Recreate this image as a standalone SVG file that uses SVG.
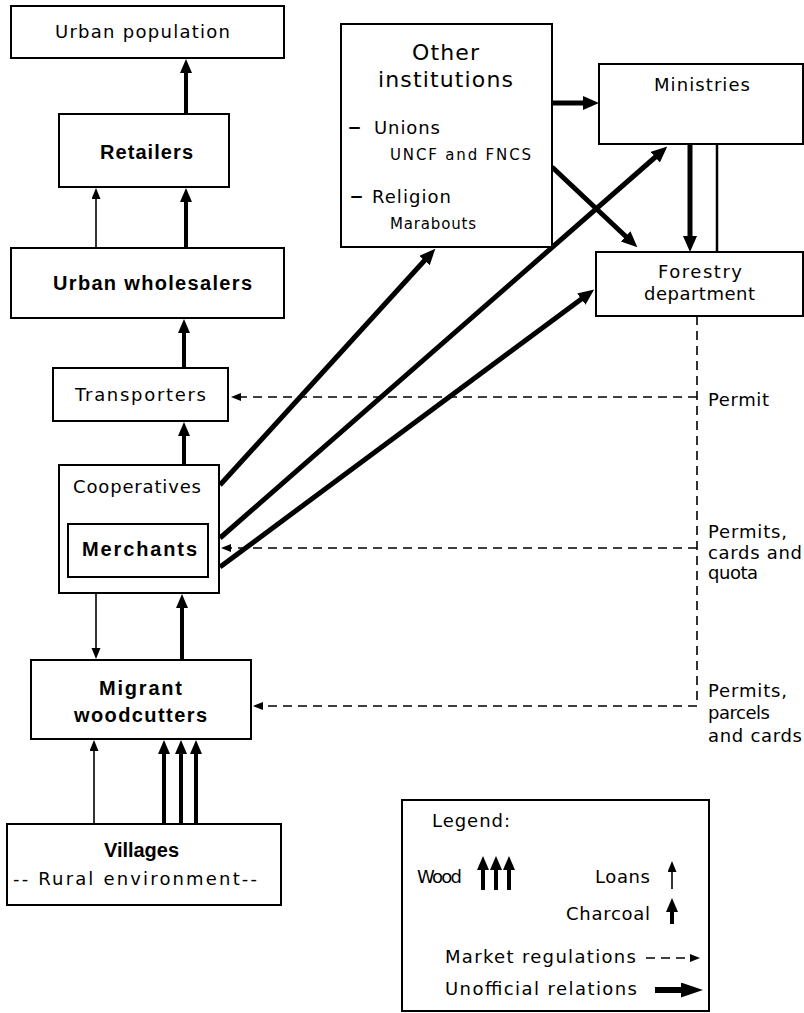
<svg xmlns="http://www.w3.org/2000/svg" width="804" height="1013" viewBox="0 0 804 1013">
<style>
.box{fill:#fff;stroke:#000;stroke-width:2}
.t{font-family:"DejaVu Sans",sans-serif;font-size:18px;fill:#000}
.s{font-family:"DejaVu Sans",sans-serif;font-size:15px;fill:#000}
.big{font-family:"DejaVu Sans",sans-serif;font-size:22px;fill:#000}
.dsh{font-family:"DejaVu Sans",sans-serif;font-size:26px;fill:#000}
.b{font-family:"Liberation Sans",Arial,sans-serif;font-size:20px;font-weight:bold;fill:#000}
.thick{stroke:#000;stroke-width:4;fill:none;marker-end:url(#hThick)}
.thin{stroke:#000;stroke-width:1.6;fill:none;marker-end:url(#hThin)}
.unoff{stroke:#000;stroke-width:5;fill:none;marker-end:url(#hUn)}
.dash{stroke:#000;stroke-width:1.6;fill:none;stroke-dasharray:9 6}
.dasharr{stroke:#000;stroke-width:1.6;fill:none;stroke-dasharray:9 6;marker-end:url(#hDash)}
</style>
<defs>
<marker id="hThick" markerUnits="userSpaceOnUse" markerWidth="16" markerHeight="14" refX="1" refY="6" orient="auto"><path d="M0,0 L14,6 L0,12 z" fill="#000"/></marker>
<marker id="hUn" markerUnits="userSpaceOnUse" markerWidth="18" markerHeight="16" refX="1" refY="7" orient="auto"><path d="M0,0 L16,7 L0,14 z" fill="#000"/></marker>
<marker id="hThin" markerUnits="userSpaceOnUse" markerWidth="13" markerHeight="10" refX="1" refY="4.5" orient="auto"><path d="M0,0 L11,4.5 L0,9 z" fill="#000"/></marker>
<marker id="hDash" markerUnits="userSpaceOnUse" markerWidth="12" markerHeight="10" refX="1" refY="4" orient="auto"><path d="M0,0 L10,4 L0,8 z" fill="#000"/></marker>
<marker id="hBig" markerUnits="userSpaceOnUse" markerWidth="24" markerHeight="18" refX="1" refY="7.5" orient="auto"><path d="M0,0 L22,7.5 L0,15 z" fill="#000"/></marker>
</defs>

<g id="connectors">
<line class="thick" x1="186" y1="114" x2="186" y2="72"/>
<line class="thin" x1="96" y1="248" x2="96" y2="198"/>
<line class="thick" x1="186" y1="248" x2="186" y2="201"/>
<line class="thick" x1="184" y1="368" x2="184" y2="332"/>
<line class="thick" x1="184" y1="465" x2="184" y2="435"/>
<line class="thin" x1="96" y1="593" x2="96" y2="649"/>
<line class="thick" x1="182" y1="660" x2="182" y2="607"/>
<line class="thin" x1="94" y1="824" x2="94" y2="750"/>
<line class="thick" x1="164" y1="824" x2="164" y2="753"/>
<line class="thick" x1="181" y1="824" x2="181" y2="753"/>
<line class="thick" x1="196" y1="824" x2="196" y2="753"/>
<line class="unoff" x1="553" y1="103" x2="584" y2="103"/>
<line class="unoff" x1="690" y1="144" x2="690" y2="237"/>
<line x1="717" y1="144" x2="717" y2="252" stroke="#000" stroke-width="2.5"/>
<line class="unoff" x1="552" y1="167" x2="626.4" y2="237"/>
<line class="unoff" x1="220" y1="485" x2="425.2" y2="259.8"/>
<line class="unoff" x1="220" y1="538" x2="656" y2="156.5"/>
<line class="unoff" x1="220" y1="567" x2="582.1" y2="298.5"/>
<line class="dash" x1="697" y1="316" x2="697" y2="706"/>
<line class="dasharr" x1="697" y1="397" x2="240" y2="397"/>
<line class="dasharr" x1="697" y1="548" x2="230" y2="548"/>
<line class="dasharr" x1="697" y1="706" x2="262" y2="706"/>
</g>

<g id="urban-population">
<rect class="box" x="11" y="6" width="273" height="52"/>
<text class="t" x="55" y="38" textLength="175">Urban population</text>
</g>
<g id="retailers">
<rect class="box" x="59" y="114" width="170" height="73"/>
<text class="b" x="100" y="159" textLength="93">Retailers</text>
</g>
<g id="urban-wholesalers">
<rect class="box" x="11" y="248" width="273" height="70"/>
<text class="b" x="53" y="290" textLength="199">Urban wholesalers</text>
</g>
<g id="transporters">
<rect class="box" x="53" y="368" width="175" height="53"/>
<text class="t" x="75" y="401" textLength="131">Transporters</text>
</g>
<g id="cooperatives">
<rect class="box" x="59" y="465" width="160" height="128"/>
<text class="t" x="73" y="493" textLength="128">Cooperatives</text>
</g>
<g id="merchants">
<rect class="box" x="68" y="524" width="140" height="53"/>
<text class="b" x="82" y="556" textLength="115">Merchants</text>
</g>
<g id="migrant-woodcutters">
<rect class="box" x="31" y="660" width="220" height="79"/>
<text class="b" x="99" y="695" textLength="83">Migrant</text>
<text class="b" x="74" y="722" textLength="133">woodcutters</text>
</g>
<g id="villages">
<rect class="box" x="7" y="824" width="274" height="81"/>
<text class="b" x="104" y="857" textLength="75">Villages</text>
<text class="t" x="13" y="885" textLength="244">-- Rural environment--</text>
</g>
<g id="other-institutions">
<rect class="box" x="341" y="24" width="211" height="223"/>
<text class="big" x="412" y="60" textLength="67">Other</text>
<text class="big" x="378" y="87" textLength="135">institutions</text>
<text class="dsh" x="348" y="135">–</text>
<text class="t" x="374" y="134" textLength="66">Unions</text>
<text class="s" x="390" y="160" textLength="141">UNCF and FNCS</text>
<text class="dsh" x="350" y="204">–</text>
<text class="t" x="372" y="203" textLength="79">Religion</text>
<text class="s" x="390" y="229" textLength="86">Marabouts</text>
</g>
<g id="ministries">
<rect class="box" x="599" y="64" width="204" height="80"/>
<text class="t" x="654" y="91" textLength="96">Ministries</text>
</g>
<g id="forestry-department">
<rect class="box" x="596" y="252" width="207" height="64"/>
<text class="t" x="658" y="278" textLength="84">Forestry</text>
<text class="t" x="644" y="300" textLength="111">department</text>
</g>
<g id="regulation-labels">
<text class="t" x="708" y="406" textLength="61">Permit</text>
<text class="t" x="708" y="538" textLength="79">Permits,</text>
<text class="t" x="708" y="559" textLength="94">cards and</text>
<text class="t" x="708" y="579" textLength="50">quota</text>
<text class="t" x="708" y="697" textLength="79">Permits,</text>
<text class="t" x="708" y="719" textLength="62">parcels</text>
<text class="t" x="708" y="742" textLength="94">and cards</text>
</g>
<g id="legend">
<rect class="box" x="402" y="800" width="307" height="211"/>
<text class="t" x="432" y="827" textLength="78">Legend:</text>
<text class="t" x="417" y="883" textLength="45">Wood</text>
<line class="thick" x1="483" y1="890" x2="483" y2="869"/>
<line class="thick" x1="496" y1="890" x2="496" y2="869"/>
<line class="thick" x1="509" y1="890" x2="509" y2="869"/>
<text class="t" x="595" y="883" textLength="55">Loans</text>
<line class="thin" x1="672" y1="889" x2="672" y2="871"/>
<text class="t" x="566" y="920" textLength="84">Charcoal</text>
<line class="thick" x1="672" y1="924" x2="672" y2="911"/>
<text class="t" x="445" y="963" textLength="191">Market regulations</text>
<line class="dasharr" x1="646" y1="958" x2="691" y2="958" stroke-dasharray="7 4"/>
<text class="t" x="445" y="995" textLength="192">Unofficial relations</text>
<line x1="655" y1="990" x2="682" y2="990" stroke="#000" stroke-width="6" marker-end="url(#hBig)"/>
</g>
</svg>
